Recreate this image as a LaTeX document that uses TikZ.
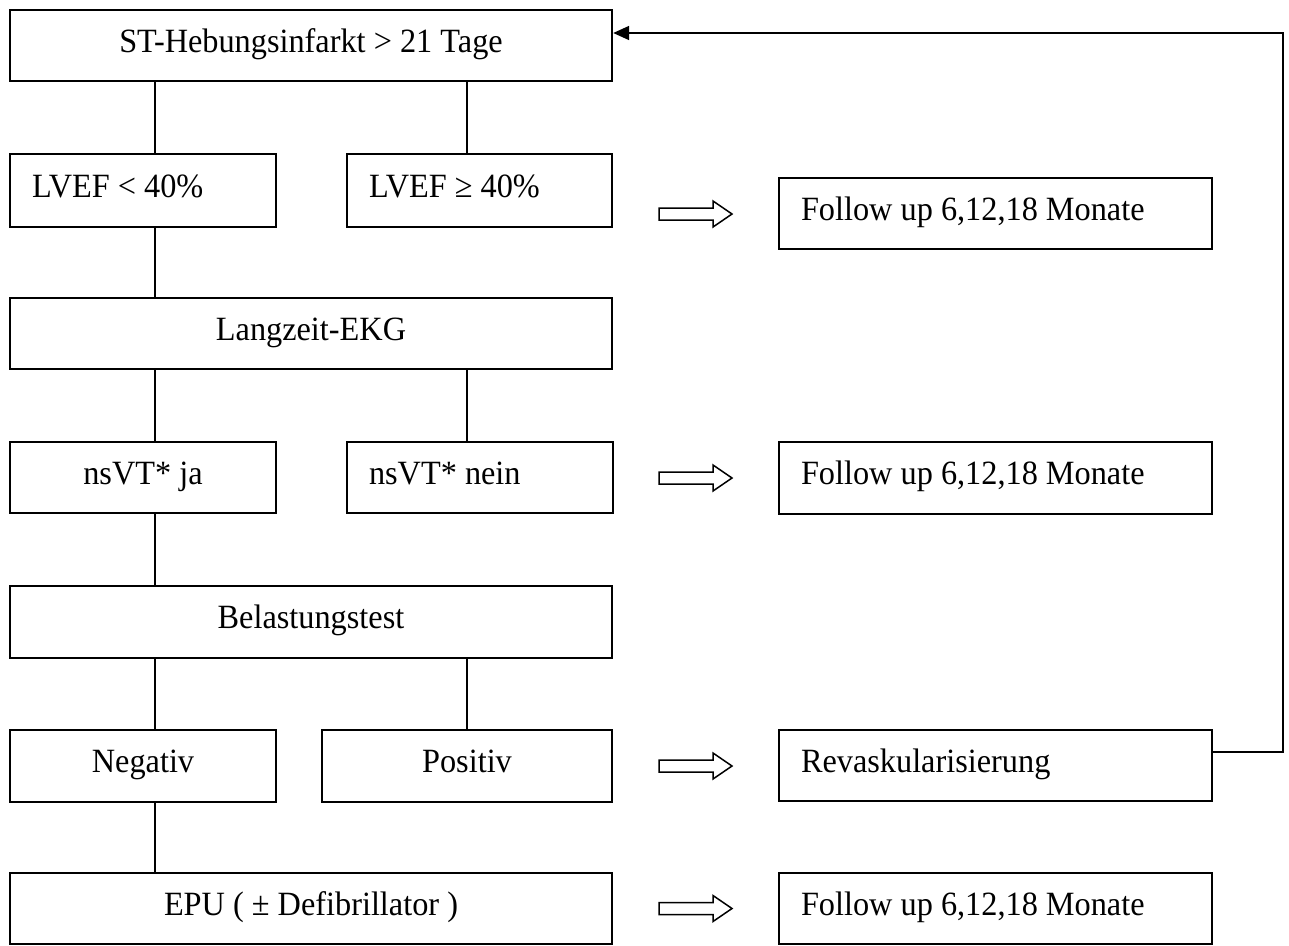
\documentclass[tikz,border=0pt]{standalone}
\usepackage{fontspec}
\setmainfont{Liberation Serif}[FakeStretch=0.95]
\usetikzlibrary{arrows.meta}
\tikzset{
  box/.style={draw, line width=2.4pt, inner xsep=22pt, inner ysep=0pt,
    text height=22pt, text depth=9pt, font=\fontsize{34}{40}\selectfont},
  boxc/.style={box},
  boxl/.style={box, align=left, execute at begin node={\spaceskip=0pt\xspaceskip=0pt\relax}},
  conn/.style={line width=1.7pt},
  fback/.style={line width=1.7pt, -{Triangle[length=16pt,width=14pt]}},
  hollowarr/.style={draw, line width=1.5pt, fill=white, line join=miter},
  harrow/.pic={\path[hollowarr] (0,-6) -- (54,-6) -- (54,-13) -- (73,0) -- (54,13) -- (54,6) -- (0,6) -- cycle;}
}
\begin{document}
\begin{tikzpicture}[x=1pt,y=-1pt]
\useasboundingbox (0,0) rectangle (1289,945);
% column coordinates for connectors
\coordinate (xl) at (155,0);
\coordinate (xr) at (467,0);
% boxes
\node[boxc, minimum width=602pt, minimum height=71pt] (st) at (311,45.5) {ST-Hebungsinfarkt > 21 Tage};
\node[boxl, text width=222pt, minimum height=73pt] (lv1) at (143,190.5) {LVEF < 40\%};
\node[boxl, text width=221pt, minimum height=73pt] (lv2) at (479.5,190.5) {LVEF ≥ 40\%};
\node[boxl, text width=389pt, minimum height=71pt] (fu1) at (995.5,213.5) {Follow up 6,12,18 Monate};
\node[boxc, minimum width=602pt, minimum height=71pt] (lz) at (311,333.5) {Langzeit-EKG};
\node[boxc, minimum width=266pt, minimum height=71pt] (ns1) at (143,477.5) {nsVT* ja};
\node[boxl, text width=222pt, minimum height=71pt] (ns2) at (480,477.5) {nsVT* nein};
\node[boxl, text width=389pt, minimum height=72pt] (fu2) at (995.5,478) {Follow up 6,12,18 Monate};
\node[boxc, minimum width=602pt, minimum height=72pt] (bt) at (311,622) {Belastungstest};
\node[boxc, minimum width=266pt, minimum height=72pt] (neg) at (143,766) {Negativ};
\node[boxc, minimum width=290pt, minimum height=72pt] (pos) at (467,766) {Positiv};
\node[boxl, text width=389pt, minimum height=71pt] (rev) at (995.5,765.5) {Revaskularisierung};
\node[boxc, minimum width=602pt, minimum height=71pt] (epu) at (311,908.5) {EPU ( ± Defibrillator )};
\node[boxl, text width=389pt, minimum height=71pt] (fu3) at (995.5,908.5) {Follow up 6,12,18 Monate};
% vertical connectors
\draw[conn] (st.south -| xl) -- (lv1.north -| xl);
\draw[conn] (st.south -| xr) -- (lv2.north -| xr);
\draw[conn] (lv1.south -| xl) -- (lz.north -| xl);
\draw[conn] (lz.south -| xl) -- (ns1.north -| xl);
\draw[conn] (lz.south -| xr) -- (ns2.north -| xr);
\draw[conn] (ns1.south -| xl) -- (bt.north -| xl);
\draw[conn] (bt.south -| xl) -- (neg.north -| xl);
\draw[conn] (bt.south -| xr) -- (pos.north -| xr);
\draw[conn] (neg.south -| xl) -- (epu.north -| xl);
% hollow arrows
\pic at (659,214) {harrow};
\pic at (659,478) {harrow};
\pic at (659,766) {harrow};
\pic at (659,908.5) {harrow};
% feedback loop
\coordinate (r1) at (1283,752);
\coordinate (r2) at (1283,33);
\draw[fback] (rev.east |- r1) -- (r1) -- (r2) -- (st.east |- r2);
\end{tikzpicture}
\end{document}
